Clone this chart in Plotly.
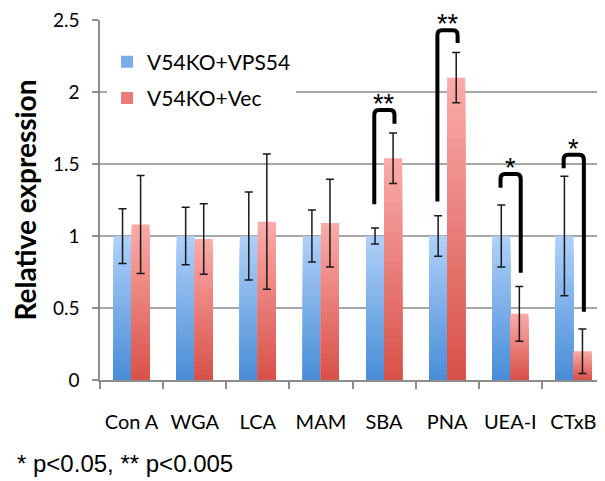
import plotly.graph_objects as go

# ---------------- data ----------------
categories = ["Con A", "WGA", "LCA", "MAM", "SBA", "PNA", "UEA-I", "CTxB"]
series_names = ["V54KO+VPS54", "V54KO+Vec"]
vps54_values = [1.0, 1.0, 1.0, 1.0, 1.0, 1.0, 1.0, 1.0]
vps54_errors = [0.19, 0.20, 0.305, 0.18, 0.055, 0.14, 0.215, 0.415]
vec_values = [1.08, 0.98, 1.10, 1.09, 1.54, 2.10, 0.46, 0.20]
vec_errors = [0.34, 0.245, 0.47, 0.305, 0.175, 0.175, 0.19, 0.155]

y_ticks = [0, 0.5, 1, 1.5, 2, 2.5]
y_tick_labels = ["0", "0.5", "1", "1.5", "2", "2.5"]

# significance brackets (values in y units)
bracket_cats = ["SBA", "PNA", "UEA-I", "CTxB"]
bracket_left_y = [1.22, 1.24, 1.335, 1.47]
bracket_top_y = [1.875, 2.43, 1.43, 1.565]
bracket_right_y = [1.78, 2.34, 0.745, 0.474]
bracket_labels = ["**", "**", "*", "*"]

footnote = "* p<0.05, ** p<0.005"
y_title = "Relative expression"

# ---------------- style ----------------
BAR_W = 0.286
N_STEPS = 30
blue_bottom, blue_top = (72, 140, 216), (176, 209, 249)
red_bottom, red_top = (216, 80, 72), (251, 172, 170)
TEXT_FONT = "Lato, 'Open Sans', sans-serif"


def mix(c0, c1, t):
    return "rgb(%d,%d,%d)" % tuple(round(a + (b - a) * t) for a, b in zip(c0, c1))


x_idx = list(range(len(categories)))
fig = go.Figure()

series = [
    (series_names[0], vps54_values, vps54_errors, blue_bottom, blue_top, -BAR_W),
    (series_names[1], vec_values, vec_errors, red_bottom, red_top, 0.0),
]

for name, vals, errs, c_bot, c_top, off in series:
    # vertical gradient: overlapping bars, each shorter one drawn on top
    for j in range(N_STEPS):
        frac = (N_STEPS - j) / N_STEPS
        t = (N_STEPS - j - 0.5) / N_STEPS
        fig.add_trace(go.Bar(
            x=x_idx, y=[v * frac for v in vals],
            width=BAR_W, offset=off,
            marker=dict(color=mix(c_bot, c_top, t), line=dict(width=0)),
            name=name, legendgroup=name,
            showlegend=(j == N_STEPS // 2),
            hoverinfo="skip",
        ))
    # error bars on top
    fig.add_trace(go.Bar(
        x=x_idx, y=vals, width=BAR_W, offset=off,
        marker=dict(color="rgba(0,0,0,0)", line=dict(width=0)),
        error_y=dict(type="data", array=errs, visible=True,
                     color="#1a1a1a", thickness=1.5, width=4),
        name=name, showlegend=False,
    ))

# brackets
rx, ry = 0.07, 0.035
for cat, yl, yt, yr, lab in zip(bracket_cats, bracket_left_y, bracket_top_y,
                                bracket_right_y, bracket_labels):
    i = categories.index(cat)
    xl, xr = i - 0.155, i + 0.165
    path = (f"M {xl},{yl} L {xl},{yt - ry} Q {xl},{yt} {xl + rx},{yt} "
            f"L {xr - rx},{yt} Q {xr},{yt} {xr},{yt - ry} L {xr},{yr}")
    fig.add_shape(type="path", path=path, xref="x", yref="y",
                  line=dict(color="black", width=4))
    fig.add_annotation(x=(xl + xr) / 2, y=yt, xref="x", yref="y",
                       text=lab, showarrow=False, yanchor="bottom", yshift=-11,
                       font=dict(family="'Liberation Sans', Arial", size=27, color="black"))

fig.add_annotation(x=-0.168, y=-0.233, xref="paper", yref="paper",
                   xanchor="left", yanchor="middle", showarrow=False,
                   text=footnote,
                   font=dict(family="'Liberation Sans', Arial", size=24, color="black"))

fig.update_layout(
    width=597, height=473,
    margin=dict(l=92, r=0, t=12, b=101),
    plot_bgcolor="white", paper_bgcolor="white",
    barmode="overlay",
    showlegend=True,
    legend=dict(x=0.014, y=0.94, xanchor="left", yanchor="top",
                bgcolor="white", font=dict(family=TEXT_FONT, size=21, color="black"),
                tracegroupgap=6, itemclick=False),
    xaxis=dict(range=[-0.5, len(categories) - 0.5], tickmode="array",
               tickvals=x_idx, ticktext=categories, ticks="",
               showgrid=False, showline=True, linecolor="#8c8c8c", linewidth=1.5,
               tickfont=dict(family=TEXT_FONT, size=20, color="black"),
               ticklabelstandoff=23, zeroline=False,
               minor=dict(tickmode="array",
                          tickvals=[k - 0.5 for k in range(len(categories) + 1)],
                          ticks="outside", ticklen=7, tickcolor="#8c8c8c",
                          tickwidth=1.5, showgrid=False)),
    yaxis=dict(range=[0, 2.5005], tickmode="array", tickvals=y_ticks,
               ticktext=y_tick_labels, ticks="outside", ticklen=6,
               tickcolor="#8c8c8c", tickwidth=1.5,
               showgrid=True, gridcolor="#a8a8a8", gridwidth=1.5,
               showline=True, linecolor="#8c8c8c", linewidth=1.5, zeroline=False,
               tickfont=dict(family=TEXT_FONT, size=19, color="black"),
               ticklabelstandoff=9, ticklabeloverflow="allow",
               title=dict(text=y_title, standoff=18,
                          font=dict(family=TEXT_FONT, size=28, color="black", weight="bold"))),
)

fig.write_html("out.html")
